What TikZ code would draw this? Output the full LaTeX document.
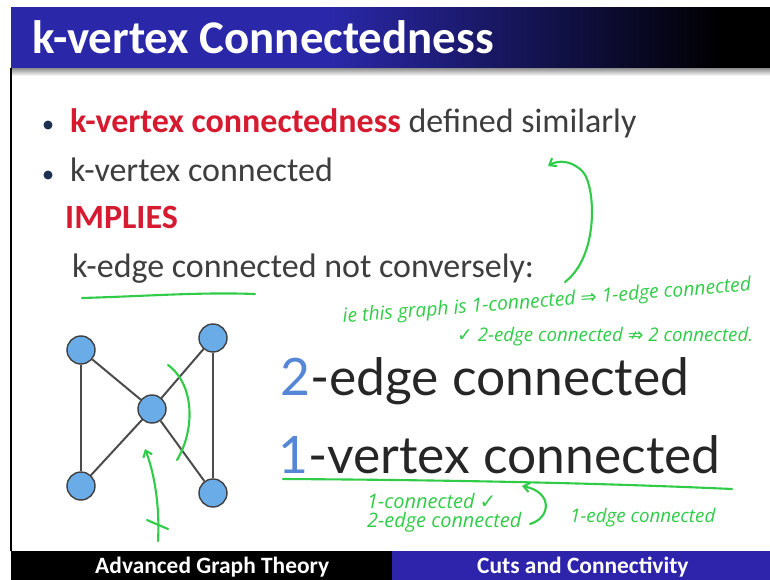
\documentclass[tikz,border=0pt]{standalone}
\usepackage{fontspec}
\usepackage{xcolor}
\usetikzlibrary{arrows.meta}

\setmainfont{Carlito}
\newfontfamily\comicfont{Lato}
\newfontfamily\handfont{Open Sans}
\newfontfamily\symfont{DejaVu Sans}

\definecolor{titleblue}{RGB}{42,40,168}
\definecolor{barblue}{RGB}{46,36,172}
\definecolor{slidered}{RGB}{214,26,48}
\definecolor{slidegray}{RGB}{62,62,62}
\definecolor{bulletblue}{RGB}{30,48,80}
\definecolor{vertexblue}{RGB}{106,172,232}
\definecolor{inkgreen}{RGB}{48,204,72}
\definecolor{digitblue}{RGB}{86,134,214}

\tikzset{
  vertex/.style={circle, fill=vertexblue, draw=black!75, line width=1.2pt, minimum size=0.84cm, inner sep=0pt},
  edge/.style={draw=black!70, line width=1.7pt},
  ink/.style={draw=inkgreen, line width=1.8pt, line cap=round, line join=round},
  inktext/.style={text=inkgreen, inner sep=0pt, anchor=base west, font=\handfont\itshape\fontsize{17}{17}\selectfont},
  slidetext/.style={inner sep=0pt, anchor=base west, font=\fontsize{29}{29}\selectfont},
  bigtext/.style={inner sep=0pt, anchor=base west, text=black!85, font=\comicfont\fontsize{44}{44}\selectfont},
  bartext/.style={inner sep=0pt, anchor=base west, text=white, font=\bfseries\fontsize{20}{20}\selectfont}
}

\begin{document}
\begin{tikzpicture}[x=0.03cm, y=-0.03cm]
                \useasboundingbox (0,0) rectangle (770,580);
                \fill[white] (0,0) rectangle (770,580);

                % title bar
                \fill[titleblue] (11,7) rectangle (331,68);
                \shade[left color=titleblue, right color=black] (330,7) rectangle (721,68);
                \fill[black] (720,7) rectangle (770,68);
                \shade[top color=black!45, bottom color=white] (11,68) rectangle (770,76);
                \node[inner sep=0pt, anchor=base west, text=white, font=\bfseries\fontsize{40}{40}\selectfont] (title) at (32,53) {k-vertex Connectedness};

                % left border and footer
                \draw[black, line width=1.2pt] (11,68) -- (11,551);
                \fill[black] (11,551) rectangle (393,580);
                \fill[barblue] (392,551) rectangle (770,580);
                \node[bartext] (course) at (95,573) {Advanced Graph Theory};
                \node[bartext] (topic) at (477,573) {Cuts and Connectivity};

                % bullets
                \fill[bulletblue] (48,125) circle (4.5);
                \fill[bulletblue] (48,175) circle (4.5);
                \node[slidetext] (line1) at (70,132) {\textcolor{slidered}{\bfseries k-vertex connectedness} \textcolor{slidegray}{defined similarly}};
                \node[slidetext, text=slidegray] (line2) at (70,181) {k-vertex connected};
                \node[slidetext, text=slidered, font=\bfseries\fontsize{29}{29}\selectfont] (implies) at (65,228) {IMPLIES};
                \node[slidetext, text=slidegray] (line3) at (72,277) {k-edge connected not conversely:};

                % the graph
                \node[vertex] (tl) at (81,350) {};
                \node[vertex] (tr) at (213,338) {};
                \node[vertex] (c)  at (152,409) {};
                \node[vertex] (bl) at (81,486) {};
                \node[vertex] (br) at (213,493) {};
                \draw[edge] (tl) -- (bl);
                \draw[edge] (tl) -- (c);
                \draw[edge] (c) -- (br);
                \draw[edge] (tr) -- (c);
                \draw[edge] (c) -- (bl);
                \draw[edge] (tr) -- (br);

                % big statement
                \node[bigtext] (edge2) at (280,395) {\textcolor{digitblue}{2}-edge connected};
                \node[bigtext] (vert1) at (278,473) {\textcolor{digitblue}{1}-vertex connected};

                % pen notes
                \draw[ink] (82,298) .. controls (150,296) and (200,292) .. (255,294);
                \draw[ink, -{Straight Barb[length=5pt, width=8pt]}] (565,282) .. controls (600,255) and (595,185) .. (583,172) .. controls (572,160) and (558,160) .. (548,166);
                \node[inktext, rotate=4.5, font=\handfont\itshape\fontsize{16.5}{16.5}\selectfont] (note1) at (343,323) {ie this graph is 1-connected {\symfont ⇒} 1-edge connected};
                \node[inktext, font=\handfont\itshape\fontsize{16}{16}\selectfont] (note2) at (457,341) {{\symfont ✓} 2-edge connected {\symfont ⇏} 2 connected.};

                \draw[ink] (168,365) .. controls (195,385) and (195,430) .. (177,460);
                \draw[ink, -{Straight Barb[length=5pt, width=8pt]}] (158,541) .. controls (160,505) and (154,472) .. (145,449);
                \draw[ink] (147,520) -- (168,529);

                \draw[ink] (283,479) .. controls (450,480) and (600,483) .. (732,489);
                \node[inktext] (note3) at (367,508) {1-connected {\symfont ✓}};
                \node[inktext] (note4) at (367,527) {2-edge connected};
                \draw[ink, -{Straight Barb[length=5pt, width=8pt]}] (530,524) .. controls (551,518) and (553,492) .. (522,486);
                \node[inktext, font=\handfont\itshape\fontsize{16}{16}\selectfont] (note5) at (570,522) {1-edge connected};
\end{tikzpicture}
\end{document}
